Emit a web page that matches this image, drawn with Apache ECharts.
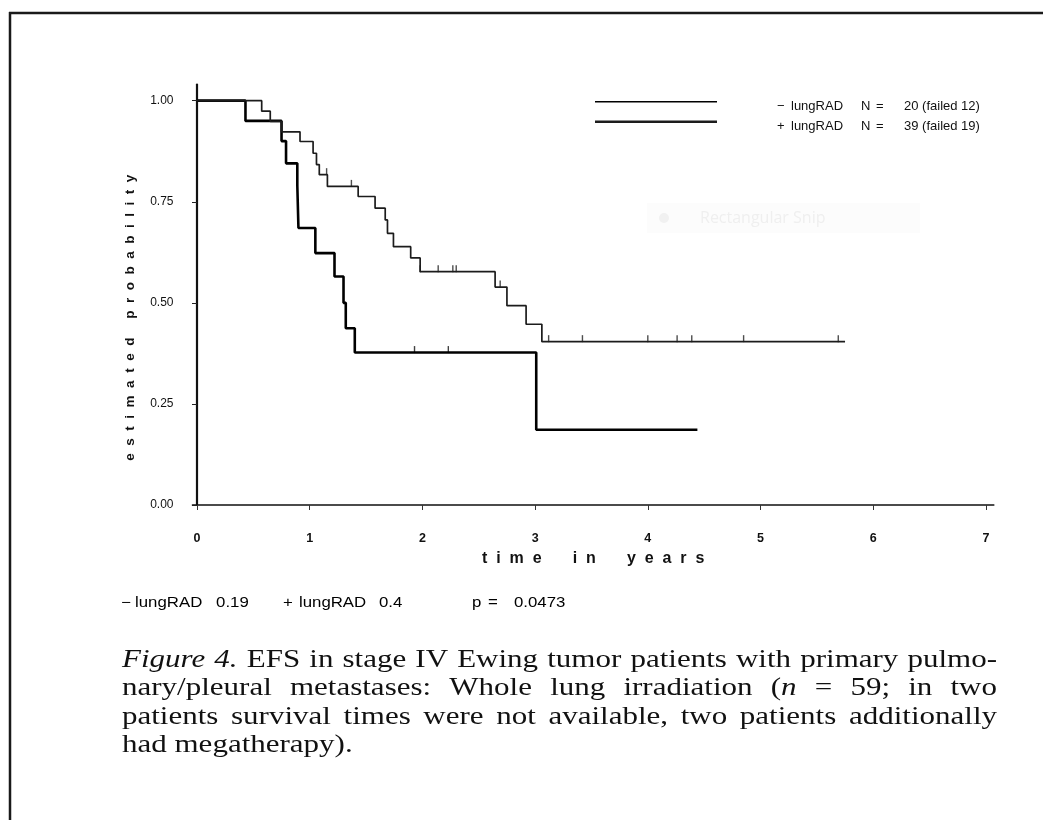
<!DOCTYPE html>
<html><head><meta charset="utf-8">
<script src="https://cdn.jsdelivr.net/npm/echarts@6/dist/echarts.min.js"></script>
<style>html,body{margin:0;padding:0;background:#fff}#c{width:1043px;height:820px}</style>
</head><body><div id="c"></div>
<script>
// ---- data ----
const xTickValues = [0, 1, 2, 3, 4, 5, 6, 7];
const xTickLabels = ['0', '1', '2', '3', '4', '5', '6', '7'];
const yTickValues = [0, 0.25, 0.5, 0.75, 1];
const yTickLabels = ['0.00', '0.25', '0.50', '0.75', '1.00'];

const groupNames = ['− lungRAD', '+ lungRAD'];
const groupN = [20, 39];
const groupFailed = [12, 19];
const groupFinal = ['0.19', '0.4'];
const pValue = '0.0473';

// − lungRAD (lower curve)
const minusTime = [0, 0.43, 0.75, 0.79, 0.89, 0.90, 1.05, 1.22, 1.30, 1.32, 1.40, 3.01, 4.44];
const minusSurv = [1.00, 0.95, 0.90, 0.845, 0.79, 0.685, 0.623, 0.565, 0.50, 0.437, 0.377, 0.186, 0.186];
const minusCensorTime = [1.93, 2.23];
const minusCensorSurv = [0.377, 0.377];

// + lungRAD (upper curve)
const plusTime = [0, 0.574, 0.65, 0.75, 0.914, 1.03, 1.06, 1.085, 1.157, 1.43, 1.58, 1.67, 1.69, 1.743, 1.896, 1.98, 2.645, 2.75, 2.92, 3.06, 5.75];
const plusSurv = [1.00, 0.974, 0.949, 0.923, 0.899, 0.870, 0.842, 0.817, 0.788, 0.763, 0.734, 0.705, 0.672, 0.639, 0.611, 0.577, 0.539, 0.493, 0.447, 0.404, 0.404];
const plusCensorTime = [1.15, 1.37, 1.98, 2.14, 2.27, 2.30, 2.69, 3.12, 3.42, 4.00, 4.26, 4.39, 4.85, 5.69];
const plusCensorSurv = [0.817, 0.788, 0.577, 0.577, 0.577, 0.577, 0.539, 0.404, 0.404, 0.404, 0.404, 0.404, 0.404, 0.404];

const xAxisName = 'time in years';
const yAxisName = 'estimated probability';
const captionLines = [
  '_Figure 4._  EFS in stage IV Ewing tumor patients with primary pulmo-',
  'nary/pleural metastases: Whole lung irradiation (_n_ = 59; in two',
  'patients survival times were not available, two patients additionally',
  'had megatherapy).'
];
const captionJustify = [true, true, true, false];

// ---- helpers ----
const zip = (a, b) => a.map((v, i) => [v, b[i]]);
const spaced = (s, letterSep, wordSep) => s.split(' ').map(w => w.split('').join(letterSep)).join(wordSep);
const SANS = "'Liberation Sans Narrow', 'Liberation Sans', Arial, sans-serif";

function captionElements() {
  const ctx = document.createElement('canvas').getContext('2d');
  const F = 25, SX = 1.24, X0 = 122, W = 875, Y0 = 660, LH = 28.6;
  const els = [];
  let italic = false;
  captionLines.forEach((line, li) => {
    const words = line.split(/\s+/).filter(Boolean).map(w => {
      const segs = [];
      w.split('_').forEach((part, k) => {
        if (k > 0) italic = !italic;
        if (part) segs.push({ t: part, it: italic });
      });
      segs.forEach(s => {
        ctx.font = (s.it ? 'italic ' : '') + F + 'px "Liberation Serif"';
        s.w = ctx.measureText(s.t).width * SX;
      });
      return segs;
    });
    const ww = words.map(s => s.reduce((a, b) => a + b.w, 0));
    const total = ww.reduce((a, b) => a + b, 0);
    ctx.font = F + 'px "Liberation Serif"';
    const gap = captionJustify[li] ? (W - total) / (words.length - 1) : ctx.measureText(' ').width * SX;
    let x = X0;
    words.forEach((segs, i) => {
      let sx = x;
      segs.forEach(s => {
        els.push({
          type: 'text', x: sx, y: Y0 + li * LH, scaleX: SX, silent: true,
          style: { text: s.t, fontFamily: '"Liberation Serif", "Times New Roman", serif', fontSize: F,
                   fontStyle: s.it ? 'italic' : 'normal', fill: '#111', verticalAlign: 'middle' }
        });
        sx += s.w;
      });
      x += ww[i] + gap;
    });
  });
  return els;
}

const chart = echarts.init(document.getElementById('c'), null, { renderer: 'canvas' });

const legendRich = {
  g: { width: 55 }, s: { width: 14 }, n: { width: 70 }, k: { width: 15 }, e: { width: 28 }, v: {}
};
Object.values(legendRich).forEach(r => { r.fontSize = 13; r.fontFamily = SANS; r.color = '#111'; });
const legendFormatter = name => {
  const i = groupNames.indexOf(name);
  const parts = name.split(' ');
  return `{g| }{s|${parts[0]}}{n|${parts[1]}}{k|N}{e|=}{v|${groupN[i]} (failed ${groupFailed[i]})}`;
};
const mkLegend = (i, top, h) => ({
  data: [groupNames[i]], left: 595, top: top, orient: 'vertical', padding: 0,
  itemWidth: 122, itemHeight: h, icon: 'rect', selectedMode: false,
  formatter: legendFormatter, textStyle: { rich: legendRich, padding: [9, 0, 0, 0] }
});

const statsSX = 1.2;
const statsRich = {
  s: { width: 11.7 }, n: { width: 67.5 }, v: { width: 55.8 }, s2: { width: 13.3 },
  n2: { width: 66.7 }, v2: { width: 77.5 }, p: { width: 13.3 }, e: { width: 21.7 }, x: {}
};
Object.values(statsRich).forEach(r => { r.fontSize = 14; r.fontFamily = SANS; r.color = '#111'; });
const g0 = groupNames[0].split(' '), g1 = groupNames[1].split(' ');
const statsText = `{s|${g0[0]}}{n|${g0[1]}}{v|${groupFinal[0]}}{s2|${g1[0]}}{n2|${g1[1]}}{v2|${groupFinal[1]}}{p|p}{e|=}{x|${pValue}}`;

const option = {
  backgroundColor: '#fff',
  animation: false,
  grid: { left: 192.5, right: 49.2, top: 84.5, bottom: 315, containLabel: false },
  legend: [mkLegend(0, 99.7, 1.6), mkLegend(1, 119.7, 2.6)],
  xAxis: {
    type: 'value', min: -0.04, max: 7.07,
    axisLine: { show: true, lineStyle: { color: '#111', width: 1.6 } },
    axisTick: { show: true, customValues: xTickValues, length: 5, lineStyle: { color: '#333', width: 1 } },
    axisLabel: {
      customValues: xTickValues, margin: 27, fontSize: 12.5, fontWeight: 'bold', fontFamily: SANS, color: '#111',
      formatter: v => xTickLabels[xTickValues.indexOf(Math.round(v))]
    },
    splitLine: { show: false },
    name: spaced(xAxisName, '  ', '       '), nameLocation: 'middle', nameGap: 46,
    nameTextStyle: { fontSize: 16, fontWeight: 'bold', fontFamily: SANS, color: '#111' }
  },
  yAxis: {
    type: 'value', min: 0, max: 1.04,
    axisLine: { show: true, lineStyle: { color: '#111', width: 2.2 } },
    axisTick: { show: true, customValues: yTickValues, length: 5, lineStyle: { color: '#222', width: 1 } },
    axisLabel: {
      customValues: yTickValues, margin: 19, fontSize: 12, fontFamily: SANS, color: '#111',
      formatter: v => { const i = yTickValues.findIndex(t => Math.abs(t - v) < 1e-6); return i >= 0 ? yTickLabels[i] : ''; }
    },
    splitLine: { show: false },
    name: spaced(yAxisName, '  ', '     '), nameLocation: 'middle', nameGap: 55,
    nameTextStyle: { fontSize: 13.5, fontWeight: 'bold', fontFamily: SANS, color: '#111', padding: [0, 46, 0, 0] }
  },
  series: [
    { name: groupNames[0], type: 'line', step: 'end', data: zip(minusTime, minusSurv), showSymbol: false,
      lineStyle: { color: '#000', width: 2.6 }, itemStyle: { color: '#000' }, silent: true },
    { name: groupNames[1], type: 'line', step: 'end', data: zip(plusTime, plusSurv), showSymbol: false,
      lineStyle: { color: '#1c1c1c', width: 1.7 }, itemStyle: { color: '#1c1c1c' }, silent: true },
    { name: 'censor−', type: 'scatter', data: zip(minusCensorTime, minusCensorSurv), symbol: 'rect',
      symbolSize: [1.4, 7], symbolOffset: [0, -3], itemStyle: { color: '#111' }, silent: true },
    { name: 'censor+', type: 'scatter', data: zip(plusCensorTime, plusCensorSurv), symbol: 'rect',
      symbolSize: [1.4, 7], symbolOffset: [0, -3], itemStyle: { color: '#222' }, silent: true }
  ],
  graphic: [
    { type: 'line', silent: true, shape: { x1: 10, y1: 12, x2: 10, y2: 820 }, style: { stroke: '#1a1a1a', lineWidth: 2.5 } },
    { type: 'line', silent: true, shape: { x1: 9, y1: 13, x2: 1043, y2: 13 }, style: { stroke: '#1a1a1a', lineWidth: 2.5 } },
    { type: 'rect', silent: true, shape: { x: 647, y: 203, width: 273, height: 30 }, style: { fill: '#fcfcfc' } },
    { type: 'circle', silent: true, shape: { cx: 664, cy: 218, r: 5 }, style: { fill: '#f1f1f1' } },
    { type: 'text', silent: true, x: 700, y: 218, style: { text: 'Rectangular Snip', fontSize: 16, fontFamily: "'Open Sans', sans-serif", fill: '#efefef', verticalAlign: 'middle' } },
    { type: 'text', silent: true, x: 121, y: 603, scaleX: statsSX,
      style: { text: statsText, rich: statsRich, verticalAlign: 'middle' } },
    ...captionElements()
  ]
};
chart.setOption(option);
</script>
</body></html>
